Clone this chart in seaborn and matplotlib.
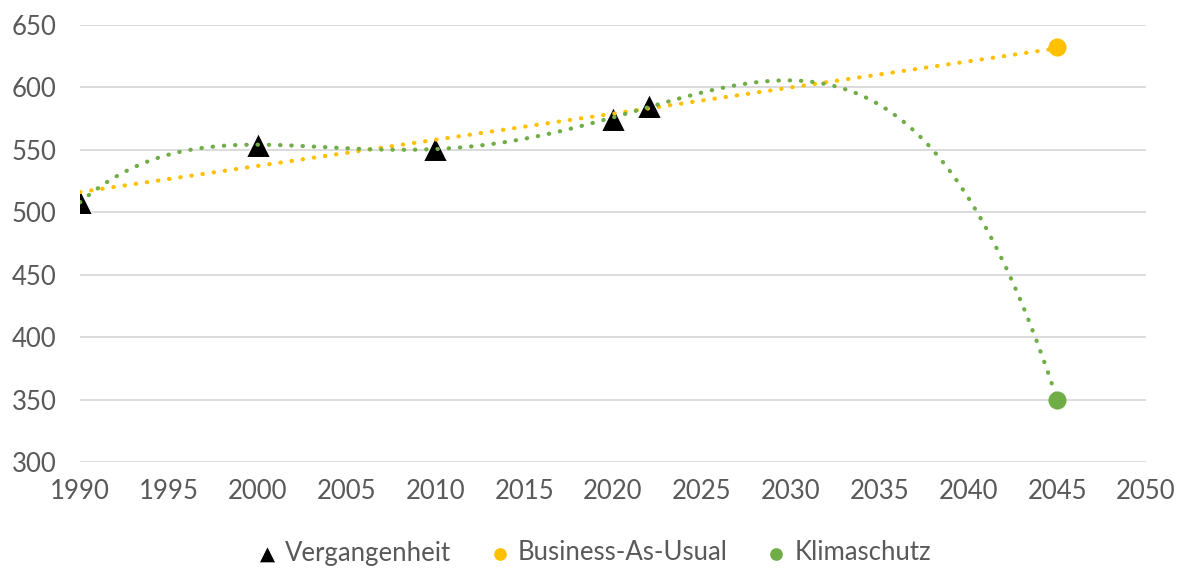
import numpy as np
import pandas as pd
import matplotlib
matplotlib.use("Agg")
import matplotlib.pyplot as plt
import seaborn as sns

# Historical values (Vergangenheit)
past_years = [1990, 2000, 2010, 2020, 2022]
past_values = [508, 554, 551, 575, 585]

# 2045 scenarios
bau_year = [2045]
bau_value = [632]
klima_year = [2045]
klima_value = [350]

x_ticks = list(range(1990, 2051, 5))
y_ticks = list(range(300, 651, 50))

BLACK = "#000000"
ORANGE = "#FFC000"
GREEN = "#70AD47"
GRID = "#D9D9D9"
TEXT = "#595959"

sns.set_theme(style="white")
plt.rcParams["font.family"] = ["Lato", "DejaVu Sans"]

fig = plt.figure(figsize=(11.82, 5.69), dpi=100)
ax = fig.add_axes([80 / 1182, 1 - 462 / 569, 1066 / 1182, 437 / 569])

past = pd.DataFrame({"Jahr": past_years, "Wert": past_values})
bau = pd.DataFrame({"Jahr": past_years + bau_year, "Wert": past_values + bau_value})
klima = pd.DataFrame({"Jahr": past_years + klima_year, "Wert": past_values + klima_value})

for y in y_ticks:
    ax.axhline(y, color=GRID, lw=1.3, zorder=0)

# Markers
sns.scatterplot(data=past, x="Jahr", y="Wert", marker="^", s=300, color=BLACK,
                edgecolor="white", linewidth=0.8, ax=ax, zorder=3, label="Vergangenheit")
sns.scatterplot(x=bau_year, y=bau_value, marker="o", s=170, color=ORANGE,
                edgecolor=ORANGE, linewidth=0, ax=ax, zorder=3, label="Business-As-Usual")
sns.scatterplot(x=klima_year, y=klima_value, marker="o", s=170, color=GREEN,
                edgecolor=GREEN, linewidth=0, ax=ax, zorder=3, label="Klimaschutz")

# Trend lines: linear for business-as-usual, 4th-order polynomial for climate protection
sns.regplot(data=bau, x="Jahr", y="Wert", order=1, ci=None, scatter=False, ax=ax,
            line_kws=dict(color=ORANGE, lw=3, linestyle=(0, (0.1, 2.6)),
                          dash_capstyle="round", zorder=4))
sns.regplot(data=klima, x="Jahr", y="Wert", order=4, ci=None, scatter=False, ax=ax,
            line_kws=dict(color=GREEN, lw=3, linestyle=(0, (0.1, 2.6)),
                          dash_capstyle="round", zorder=4))

ax.set_xlim(1990, 2050)
ax.set_ylim(300, 650)
ax.set_xticks(x_ticks)
ax.set_yticks(y_ticks)
ax.set_xlabel("")
ax.set_ylabel("")
for s in ax.spines.values():
    s.set_visible(False)
ax.tick_params(axis="both", length=0, labelsize=18.5, colors=TEXT)
ax.tick_params(axis="x", pad=12)
ax.tick_params(axis="y", pad=17)

leg = ax.legend(loc="center", bbox_to_anchor=(0.5, 1 - 553 / 569),
                bbox_transform=fig.transFigure, ncol=3, frameon=False,
                fontsize=18.5, handletextpad=0.1, columnspacing=1.3, markerscale=0.7,
                handlelength=1.2)
for t in leg.get_texts():
    t.set_color(TEXT)

fig.savefig("out.png", dpi=100, facecolor="white")
